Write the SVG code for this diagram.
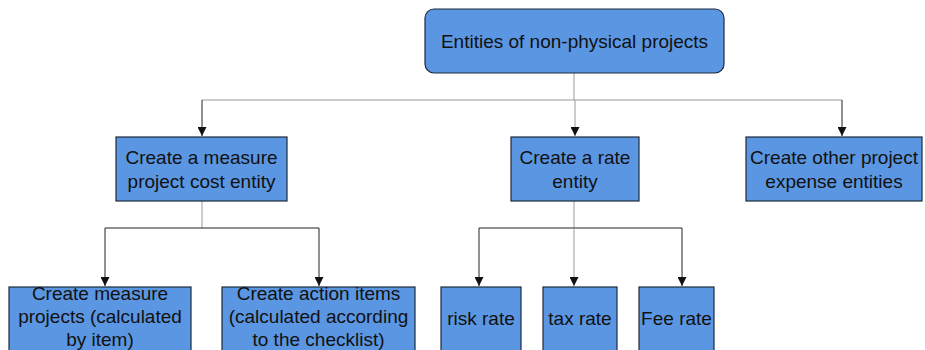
<svg xmlns="http://www.w3.org/2000/svg" width="925" height="350" viewBox="0 0 925 350">
<style>
.box{fill:#5b96e2;stroke:#1f2a3a;stroke-width:1.2}
.t{font-family:"Liberation Sans",Arial,sans-serif;font-size:19px;fill:#111;text-anchor:middle}
.ln{fill:none;stroke:#222;stroke-width:1}
.lg{fill:none;stroke:#999;stroke-width:1}
</style>
<defs>
<marker id="ah" viewBox="0 0 10 10" refX="10" refY="5" markerWidth="9" markerHeight="9" markerUnits="userSpaceOnUse" orient="auto">
<path d="M0,0 L10,5 L0,10 Z" fill="#111"/>
</marker>
</defs>
<rect width="925" height="350" fill="#fff"/>
<g id="connectors">
<line class="lg" x1="574" y1="73" x2="574" y2="100"/>
<line class="lg" x1="202" y1="100" x2="842" y2="100"/>
<line class="ln" x1="202" y1="100" x2="202" y2="136" marker-end="url(#ah)"/>
<line class="lg" x1="575" y1="100" x2="575" y2="136" marker-end="url(#ah)"/>
<line class="ln" x1="842" y1="100" x2="842" y2="136" marker-end="url(#ah)"/>
<line class="lg" x1="202" y1="201" x2="202" y2="228"/>
<line class="ln" x1="105" y1="228" x2="319" y2="228"/>
<line class="ln" x1="105" y1="228" x2="105" y2="286" marker-end="url(#ah)"/>
<line class="ln" x1="319" y1="228" x2="319" y2="286" marker-end="url(#ah)"/>
<line class="lg" x1="574" y1="201" x2="574" y2="228"/>
<line class="ln" x1="479" y1="228" x2="682" y2="228"/>
<line class="ln" x1="479" y1="228" x2="479" y2="286" marker-end="url(#ah)"/>
<line class="lg" x1="574" y1="228" x2="574" y2="286" marker-end="url(#ah)"/>
<line class="ln" x1="682" y1="228" x2="682" y2="286" marker-end="url(#ah)"/>
</g>
<g id="root">
<rect class="box" x="425" y="9" width="299" height="64" rx="9"/>
<text class="t" x="574.5" y="48">Entities of non-physical projects</text>
</g>
<g id="measure-cost">
<rect class="box" x="116" y="137" width="171" height="64"/>
<text class="t" x="201.5" y="164">Create a measure</text>
<text class="t" x="201.5" y="188">project cost entity</text>
</g>
<g id="rate-entity">
<rect class="box" x="511" y="137" width="128" height="64"/>
<text class="t" x="575" y="164">Create a rate</text>
<text class="t" x="575" y="188">entity</text>
</g>
<g id="other-expense">
<rect class="box" x="746" y="137" width="176" height="64"/>
<text class="t" x="834" y="164">Create other project</text>
<text class="t" x="834" y="188">expense entities</text>
</g>
<g id="measure-projects">
<rect class="box" x="9" y="287" width="182" height="70"/>
<text class="t" x="100" y="300">Create measure</text>
<text class="t" x="100" y="323">projects (calculated</text>
<text class="t" x="100" y="346">by item)</text>
</g>
<g id="action-items">
<rect class="box" x="222" y="287" width="193" height="70"/>
<text class="t" x="318.5" y="300">Create action items</text>
<text class="t" x="318.5" y="323">(calculated according</text>
<text class="t" x="318.5" y="346">to the checklist)</text>
</g>
<g id="risk-rate">
<rect class="box" x="441" y="287" width="80" height="70"/>
<text class="t" x="481" y="325">risk rate</text>
</g>
<g id="tax-rate">
<rect class="box" x="543" y="287" width="74" height="70"/>
<text class="t" x="580" y="325">tax rate</text>
</g>
<g id="fee-rate">
<rect class="box" x="639" y="287" width="75" height="70"/>
<text class="t" x="676.5" y="325">Fee rate</text>
</g>
</svg>
